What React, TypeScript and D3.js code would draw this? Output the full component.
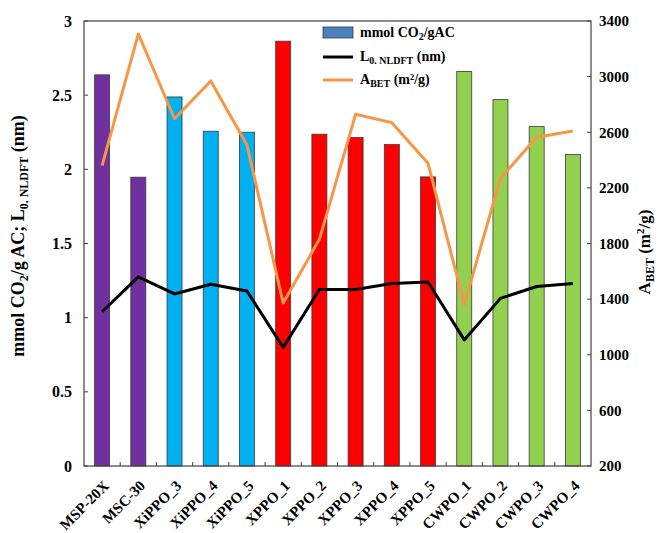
import React from "react";
import * as d3 from "d3";

const categories = ["MSP-20X","MSC-30","XiPPO_3","XiPPO_4","XiPPO_5","XPPO_1","XPPO_2","XPPO_3","XPPO_4","XPPO_5","CWPO_1","CWPO_2","CWPO_3","CWPO_4"];
const co2 = [2.637, 1.947, 2.488, 2.257, 2.25, 2.864, 2.237, 2.214, 2.167, 1.949, 2.66, 2.47, 2.288, 2.10];
const l0 = [1.04, 1.275, 1.16, 1.225, 1.18, 0.80, 1.19, 1.19, 1.23, 1.24, 0.85, 1.13, 1.21, 1.23];
const abet = [2360, 3307, 2697, 2969, 2508, 1372, 1830, 2729, 2669, 2377, 1360, 2269, 2564, 2609];
const barColors = ["#7030A0","#7030A0","#00B0F0","#00B0F0","#00B0F0","#FF0000","#FF0000","#FF0000","#FF0000","#FF0000","#92D050","#92D050","#92D050","#92D050"];
const leftTicks = [0, 0.5, 1, 1.5, 2, 2.5, 3];
const rightTicks = [200, 600, 1000, 1400, 1800, 2200, 2600, 3000, 3400];

const W = 661, H = 533;
const L = 84, R = 591, T = 21, B = 466;
const font = "'Liberation Serif', 'Times New Roman', serif";
const axisColor = "#404040";

export default function App() {
  const x = d3.scaleBand<string>().domain(categories).range([L, R]).paddingInner(0).paddingOuter(0);
  const y = d3.scaleLinear().domain([0, 3]).range([B, T]);
  const y2 = d3.scaleLinear().domain([200, 3400]).range([B, T]);
  const bw = 15;
  const cx = (c: string) => (x(c) as number) + x.bandwidth() / 2;
  const lineL = d3.line<number>().x((_, i) => cx(categories[i])).y(d => y(d));
  const lineA = d3.line<number>().x((_, i) => cx(categories[i])).y(d => y2(d));

  return (
    <svg width={W} height={H} style={{ position: "absolute", left: 0, top: 0, background: "#fff" }} fontFamily={font} fontWeight="bold">
      <rect x={0} y={0} width={W} height={H} fill="#fff" />
      {categories.map((c, i) => (
        <rect key={c} x={cx(c) - bw / 2} y={y(co2[i])} width={bw} height={B - y(co2[i])} fill={barColors[i]} stroke="#3a3a3a" strokeWidth={0.8} />
      ))}
      <path d={lineA(abet) || ""} fill="none" stroke="#F79646" strokeWidth={3} strokeLinejoin="round" />
      <path d={lineL(l0) || ""} fill="none" stroke="#000" strokeWidth={3} strokeLinejoin="round" />
      {/* frame */}
      <rect x={L} y={T} width={R - L} height={B - T} fill="none" stroke={axisColor} strokeWidth={1.2} />
      {/* left ticks */}
      {leftTicks.map(t => (
        <g key={"l" + t}>
          <line x1={L} x2={L + 4} y1={y(t)} y2={y(t)} stroke={axisColor} strokeWidth={1} />
          <text x={72} y={y(t)} dy="0.35em" textAnchor="end" fontSize={16}>{t}</text>
        </g>
      ))}
      {rightTicks.map(t => (
        <g key={"r" + t}>
          <line x1={R - 4} x2={R} y1={y2(t)} y2={y2(t)} stroke={axisColor} strokeWidth={1} />
          <text x={599} y={y2(t)} dy="0.35em" textAnchor="start" fontSize={15}>{t}</text>
        </g>
      ))}
      {categories.slice(1).map(c => (
        <line key={"bt" + c} x1={x(c) as number} x2={x(c) as number} y1={B} y2={B - 4} stroke={axisColor} strokeWidth={1} />
      ))}
      {categories.map(c => (
        <text key={"xl" + c} transform={`translate(${cx(c) + 4},${B + 17}) rotate(-45)`} textAnchor="end" dy="0.35em" fontSize={15}>{c}</text>
      ))}
      {/* axis titles */}
      <text transform={`translate(24,236) rotate(-90)`} textAnchor="middle" fontSize={18}>
        mmol CO<tspan fontSize={12} dy="4">2</tspan><tspan dy="-4">/g AC; L</tspan><tspan fontSize={12} dy="4">0. NLDFT</tspan><tspan dy="-4"> (nm)</tspan>
      </text>
      <text transform={`translate(650,252) rotate(-90)`} textAnchor="middle" fontSize={17}>
        A<tspan fontSize={12} dy="4">BET</tspan><tspan dy="-4"> (m</tspan><tspan fontSize={11} dy="-6">2</tspan><tspan dy="6">/g)</tspan>
      </text>
      {/* legend */}
      <rect x={323} y={27} width={30} height={11} fill="#4F81BD" stroke="#2a3f5f" strokeWidth={0.8} />
      <text x={360} y={37} fontSize={14}>mmol CO<tspan fontSize={10} dy="3">2</tspan><tspan dy="-3">/gAC</tspan></text>
      <line x1={323} x2={353} y1={57} y2={57} stroke="#000" strokeWidth={3} />
      <text x={360} y={61} fontSize={14}>L<tspan fontSize={10} dy="3">0. NLDFT</tspan><tspan dy="-3"> (nm)</tspan></text>
      <line x1={323} x2={353} y1={80} y2={80} stroke="#F79646" strokeWidth={3} />
      <text x={360} y={84} fontSize={14}>A<tspan fontSize={10} dy="3">BET</tspan><tspan dy="-3"> (m²/g)</tspan></text>
    </svg>
  );
}
